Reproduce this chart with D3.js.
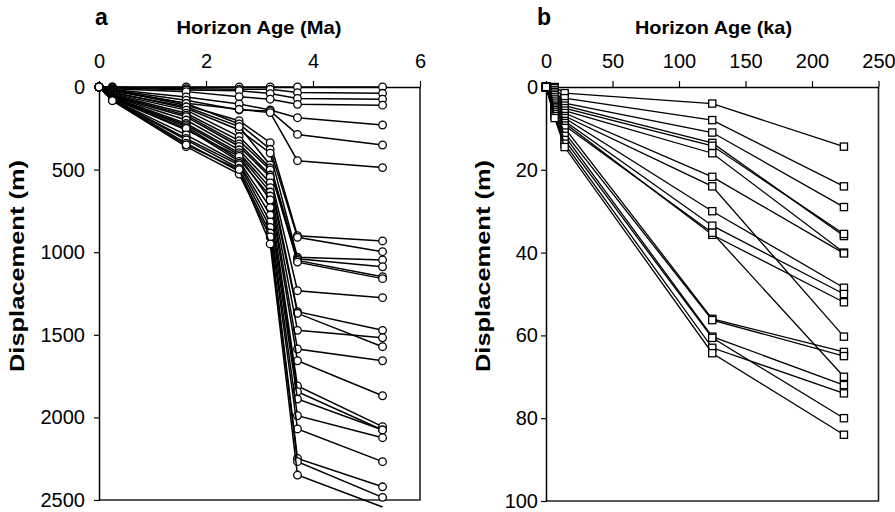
<!DOCTYPE html>
<html>
<head>
<meta charset="utf-8">
<script src="https://cdn.jsdelivr.net/npm/d3@7"></script>
<style>
  body { margin: 0; background: #fff; }
  svg { display: block; font-family: "Liberation Sans", Arial, sans-serif; }
</style>
</head>
<body>
<svg id="chart" width="895" height="512"></svg>
<script>
// ---- Panel a: displacement of each fault at each horizon (Ma) ----
const ageMa = [0, 0.25, 1.63, 2.62, 3.2, 3.71, 5.3];
const dispMa_000 = [0, 0, 0, 0, 0, 0, 0,  0, 0, 0, 0, 0, 0, 0, 0, 0, 0, 0, 0, 0, 0, 0, 0, 0, 0, 0, 0];
const dispMa_025 = [0, 0, 5, 10, 15, 18, 20,  20, 25, 30, 35, 40, 45, 50, 55, 58, 62, 65, 68, 70, 72, 75, 77, 79, 80, 82, 83];
const dispMa_163 = [0, 10, 18, 28, 60, 80, 99,  110, 99, 129, 120, 140, 159, 170, 180, 200, 220, 230, 240, 260, 250, 290, 311, 320, 340, 361, 350];
const dispMa_262 = [0, 14, 22, 59, 103, 139, 135,  204, 224, 260, 240, 300, 325, 345, 360, 380, 398, 410, 438, 420, 450, 462, 472, 492, 510, 527, 500];
const dispMa_320 = [0, 14, 40, 74, 139, 145, 155,  337, 377, 400, 472, 490, 502, 533, 545, 581, 610, 636, 660, 684, 730, 775, 817, 850, 884, 908, 950];
const dispMa_371 = [0, 34, 69, 105, 186, 287, 446,  900, 910, 1031, 1040, 1050, 1060, 1233, 1360, 1370, 1473, 1586, 1657, 1810, 1844, 1889, 1990, 2070, 2248, 2268, 2349];
const dispMa_530 = [0, 38, 74, 110, 230, 351, 488,  932, 997, 1047, 1088, 1148, 1160, 1275, 1473, 1572, 1518, 1657, 1869, 2056, 2076, 2076, 2123, 2268, 2420, 2484, 2542];
const ticksMaX = [0, 2, 4, 6];
const ticksMaY = [0, 500, 1000, 1500, 2000, 2500];

// ---- Panel b: displacement of each fault at each horizon (ka) ----
const ageKa = [0, 6.5, 14, 125, 224];
const dispKa_000 = [0, 0, 0, 0, 0, 0, 0, 0, 0, 0, 0, 0, 0, 0, 0, 0, 0, 0];
const dispKa_007 = [0, 0.3, 0.8, 1.2, 1.6, 2, 2.5, 3, 3.5, 4, 4.5, 4.8, 5.2, 5.6, 6, 6.5, 7, 7.5];
const dispKa_014 = [1.5, 2.7, 3.9, 4.5, 5.1, 5.7, 6.3, 7, 7.5, 8.2, 8.7, 9.3, 9.9, 11, 11.8, 12.8, 13.7, 14.5];
const dispKa_125 = [4, 8, 11, 13.5, 14.2, 16, 21.7, 24, 30, 33.5, 35.7, 35.2, 56, 56.3, 60.3, 60.6, 63, 64.3];
const dispKa_224 = [14.4, 24, 29, 36, 35.5, 40, 40.2, 60.3, 48.5, 50, 52, 70, 64, 65, 72, 80, 74, 84];
const ticksKaX = [0, 50, 100, 150, 200, 250];
const ticksKaY = [0, 20, 40, 60, 80, 100];

const svg = d3.select("#chart");
const plain = d3.format("d");

function buildSeries(ages, horizons) {
  return d3.range(horizons[0].length).map(i =>
    ages.map((a, j) => ({ age: a, disp: horizons[j][i] })));
}

function drawPanel(cfg) {
  const x = d3.scaleLinear().domain(cfg.xDomain).range([cfg.left, cfg.right]);
  const y = d3.scaleLinear().domain(cfg.yDomain).range([cfg.top, cfg.bottom]);
  const g = svg.append("g");

  // right and bottom frame
  g.append("path")
    .attr("d", `M${cfg.right},${cfg.top}V${cfg.bottom}H${cfg.left}`)
    .attr("fill", "none").attr("stroke", "#222").attr("stroke-width", 1.6);

  // top axis
  const ax = g.append("g").attr("transform", `translate(0,${cfg.top})`)
    .call(d3.axisTop(x).tickValues(cfg.xTicks).tickFormat(plain)
      .tickSize(6).tickSizeOuter(0).tickPadding(13));
  // left axis
  const ay = g.append("g").attr("transform", `translate(${cfg.left},0)`)
    .call(d3.axisLeft(y).tickValues(cfg.yTicks).tickFormat(plain)
      .tickSize(5).tickSizeOuter(0).tickPadding(cfg.yPad));
  [ax, ay].forEach(a => {
    a.attr("font-size", null).attr("font-family", null);
    a.select(".domain").attr("stroke", "#000").attr("stroke-width", 1.5);
    a.selectAll(".tick line").attr("stroke", "#000").attr("stroke-width", 1.2);
    a.selectAll(".tick text").attr("fill", "#000").style("font-size", "20px");
  });

  const line = d3.line().x(d => x(d.age)).y(d => y(d.disp));
  const series = buildSeries(cfg.ages, cfg.horizons);
  const inside = d => d.disp <= cfg.yDomain[1];

  series.forEach(s => {
    const sg = g.append("g");
    sg.append("path").attr("d", line(s)).attr("fill", "none")
      .attr("stroke", "#000").attr("stroke-width", cfg.lineWidth);
    if (cfg.marker === "circle") {
      sg.selectAll("circle").data(s.filter(inside)).join("circle")
        .attr("cx", d => x(d.age)).attr("cy", d => y(d.disp)).attr("r", 3.8)
        .attr("fill", "#fff").attr("stroke", "#000").attr("stroke-width", 1.3);
    } else {
      sg.selectAll("rect").data(s.filter(inside)).join("rect")
        .attr("x", d => x(d.age) - 3.6).attr("y", d => y(d.disp) - 3.6)
        .attr("width", 7.2).attr("height", 7.2)
        .attr("fill", "#fff").attr("stroke", "#000").attr("stroke-width", 1.3);
    }
  });

  // panel letter
  g.append("text").attr("x", cfg.letterX).attr("y", 25).text(cfg.letter)
    .style("font-size", "23px").style("font-weight", "bold");
  // x title
  g.append("text").attr("x", cfg.titleX).attr("y", 34).attr("text-anchor", "middle")
    .attr("textLength", cfg.titleLen).attr("lengthAdjust", "spacingAndGlyphs")
    .text(cfg.xTitle).style("font-size", "19px").style("font-weight", "bold");
  // y title
  g.append("text").attr("transform", `translate(${cfg.yTitleX},266) rotate(-90)`)
    .attr("text-anchor", "middle")
    .attr("textLength", 212).attr("lengthAdjust", "spacingAndGlyphs")
    .text("Displacement (m)").style("font-size", "20px").style("font-weight", "bold");
}

drawPanel({
  left: 99, right: 420, top: 87, bottom: 500,
  xDomain: [0, 6], yDomain: [0, 2500], xTicks: ticksMaX, yTicks: ticksMaY, yPad: 9,
  ages: ageMa,
  horizons: [dispMa_000, dispMa_025, dispMa_163, dispMa_262, dispMa_320, dispMa_371, dispMa_530],
  marker: "circle", lineWidth: 1.5, letter: "a", letterX: 95,
  xTitle: "Horizon Age (Ma)", titleX: 259, titleLen: 165, yTitleX: 24
});

drawPanel({
  left: 546, right: 878.5, top: 87, bottom: 501,
  xDomain: [0, 250], yDomain: [0, 100], xTicks: ticksKaX, yTicks: ticksKaY, yPad: 3,
  ages: ageKa,
  horizons: [dispKa_000, dispKa_007, dispKa_014, dispKa_125, dispKa_224],
  marker: "square", lineWidth: 1.3, letter: "b", letterX: 537,
  xTitle: "Horizon Age (ka)", titleX: 713.5, titleLen: 157, yTitleX: 490
});
</script>
</body>
</html>
